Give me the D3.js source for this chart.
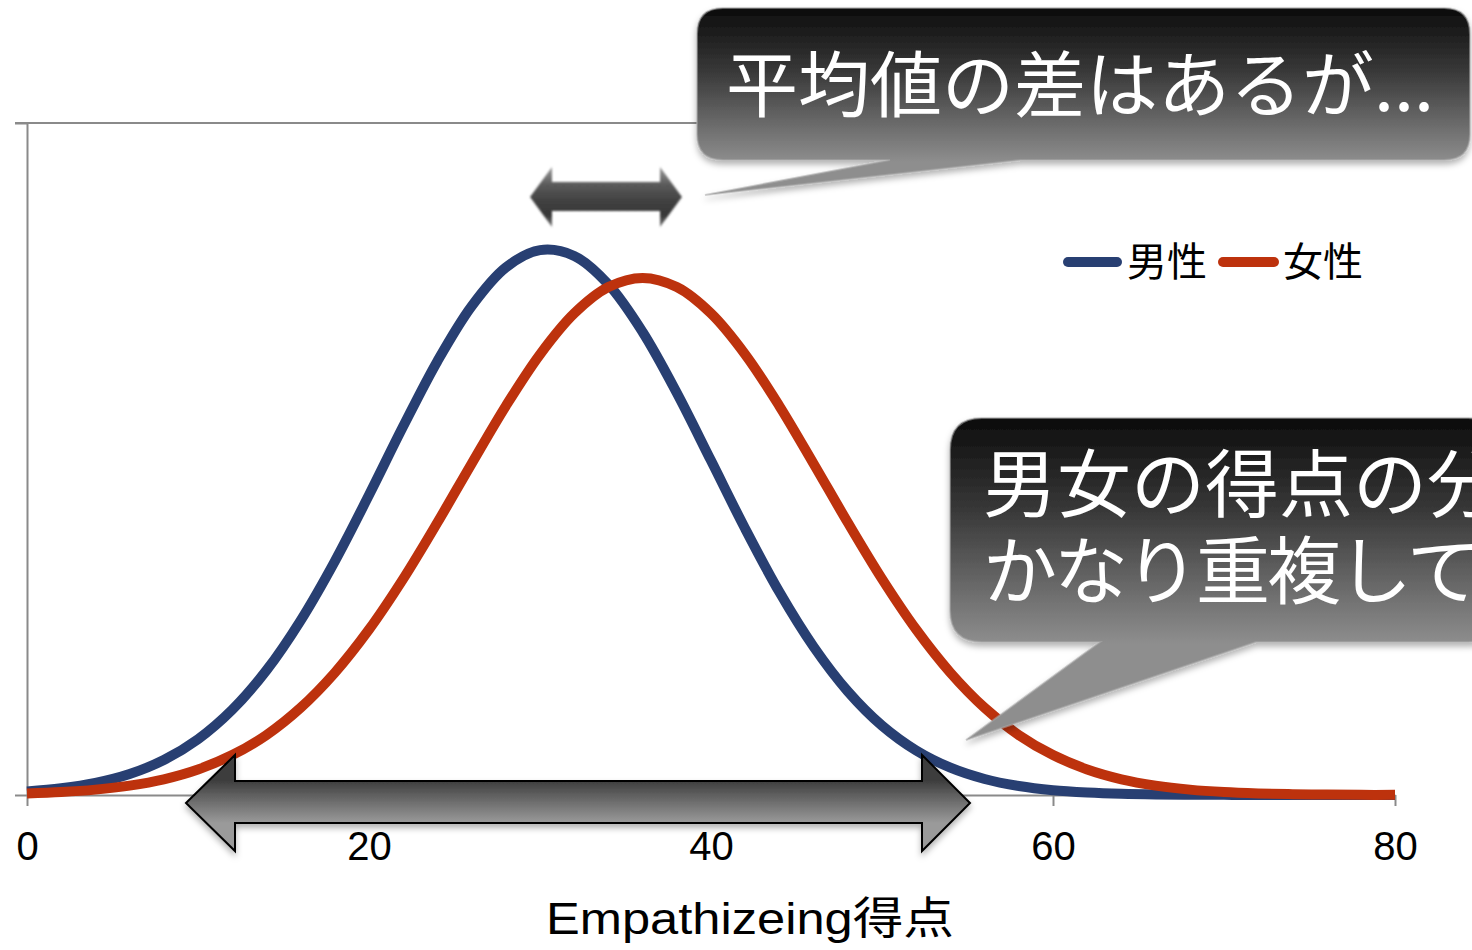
<!DOCTYPE html>
<html>
<head>
<meta charset="utf-8">
<script src="https://cdn.jsdelivr.net/npm/d3@7"></script>
<style>
  html, body { margin: 0; padding: 0; background: #fff; overflow: hidden; }
  svg { display: block; }
</style>
</head>
<body>
<svg id="chart" width="1472" height="950"></svg>
<script>
// Empathizing score distributions for men and women (density, %)
const scores = [0,2,4,6,8,10,12,14,16,18,20,22,24,26,28,30,32,34,36,38,40,
                42,44,46,48,50,52,54,56,58,60,62,64,66,68,70,72,74,76,78,80];
const maleDensity = [0.026,0.050,0.090,0.156,0.260,0.415,0.634,0.927,1.298,1.739,2.232,
                     2.743,3.228,3.637,3.925,4.054,4.011,3.799,3.445,2.992,2.488,
                     1.981,1.510,1.103,0.771,0.516,0.331,0.203,0.119,0.067,0.036,
                     0.019,0.009,0.004,0.002,0.001,0.000,0.000,0.000,0.000,0.000];
const femaleDensity = [0.012,0.022,0.040,0.070,0.117,0.190,0.297,0.446,0.649,0.910,1.231,
                       1.608,2.027,2.465,2.894,3.278,3.583,3.779,3.847,3.779,3.583,
                       3.278,2.894,2.465,2.027,1.608,1.231,0.910,0.649,0.446,0.297,
                       0.190,0.117,0.070,0.040,0.022,0.012,0.006,0.003,0.001,0.001];
const seriesNames = ["男性", "女性"];
const xTicks = [0, 20, 40, 60, 80];
const xTitle = "Empathizeing得点";
const noteTop = "平均値の差はあるが...";
const noteBottom = ["男女の得点の分布は", "かなり重複している"];

const svg = d3.select("#chart");
const latin = "'Liberation Sans', Arial, 'Noto Sans CJK JP', sans-serif";
const cjk = "'Noto Sans CJK JP', 'Noto Sans CJK SC', sans-serif";

const x = d3.scaleLinear().domain([0, 80]).range([27, 1395]);
const y = d3.scaleLinear().domain([0, 5]).range([795, 123]);

const defs = svg.append("defs");

// gradients and shadows
const bubbleGrad = (id, y0, y1) => {
  const g = defs.append("linearGradient").attr("id", id)
    .attr("gradientUnits", "userSpaceOnUse")
    .attr("x1", 0).attr("x2", 0).attr("y1", y0).attr("y2", y1);
  g.append("stop").attr("offset", 0).attr("stop-color", "#0c0c0c");
  g.append("stop").attr("offset", 0.4).attr("stop-color", "#373737");
  g.append("stop").attr("offset", 1).attr("stop-color", "#8e8e8e");
};
bubbleGrad("bubble1", 8, 162);
bubbleGrad("bubble2", 418, 644);

const arrowGrad = defs.append("linearGradient").attr("id", "bigArrow")
  .attr("gradientUnits", "userSpaceOnUse")
  .attr("x1", 0).attr("x2", 0).attr("y1", 781).attr("y2", 823);
arrowGrad.append("stop").attr("offset", 0).attr("stop-color", "#3e3e3e");
arrowGrad.append("stop").attr("offset", 0.3).attr("stop-color", "#5c5c5c");
arrowGrad.append("stop").attr("offset", 1).attr("stop-color", "#9a9a9a");

const smallGrad = defs.append("linearGradient").attr("id", "smallArrow")
  .attr("gradientUnits", "userSpaceOnUse")
  .attr("x1", 0).attr("x2", 0).attr("y1", 167).attr("y2", 227);
smallGrad.append("stop").attr("offset", 0).attr("stop-color", "#9a9a9a");
smallGrad.append("stop").attr("offset", 0.3).attr("stop-color", "#5a5a5a");
smallGrad.append("stop").attr("offset", 0.55).attr("stop-color", "#424242");
smallGrad.append("stop").attr("offset", 0.8).attr("stop-color", "#363636");
smallGrad.append("stop").attr("offset", 1).attr("stop-color", "#777");

const shadow = defs.append("filter").attr("id", "shadow")
  .attr("x", "-10%").attr("y", "-20%").attr("width", "120%").attr("height", "150%");
shadow.append("feDropShadow").attr("dx", 0).attr("dy", 4)
  .attr("stdDeviation", 3).attr("flood-color", "#000").attr("flood-opacity", 0.3);

const soft = defs.append("filter").attr("id", "soft");
soft.append("feGaussianBlur").attr("stdDeviation", 0.8);

// axes
const axisColor = "#8a8a8a";
svg.append("line")
  .attr("x1", 15).attr("x2", x(80))
  .attr("y1", y(5)).attr("y2", y(5))
  .attr("stroke", axisColor).attr("stroke-width", 2);

const yAxis = svg.append("g").attr("transform", `translate(${x(0)},0)`)
  .call(d3.axisLeft(y).tickValues([0, 5]).tickSize(12).tickSizeOuter(0).tickFormat(""));
yAxis.selectAll("path, line").attr("stroke", axisColor).attr("stroke-width", 2);

const xAxis = svg.append("g").attr("transform", `translate(0,${y(0)})`)
  .call(d3.axisBottom(x).tickValues(xTicks).tickSize(11).tickSizeOuter(0).tickPadding(26));
xAxis.selectAll("path, line").attr("stroke", axisColor).attr("stroke-width", 2);
xAxis.selectAll("text")
  .attr("fill", "#000").style("font-family", latin).style("font-size", "40px");

svg.append("text")
  .attr("x", 750).attr("y", 934)
  .attr("text-anchor", "middle")
  .attr("textLength", 408).attr("lengthAdjust", "spacingAndGlyphs")
  .style("font-family", latin).style("font-size", "44px")
  .attr("fill", "#000")
  .text(xTitle);

// distribution curves
const colors = ["#283f72", "#bd320d"];
const line = d3.line().x(d => x(d[0])).y(d => y(d[1])).curve(d3.curveCatmullRom.alpha(0.5));
[maleDensity, femaleDensity].forEach((vals, i) => {
  svg.append("path")
    .datum(scores.map((s, k) => [s, vals[k]]))
    .attr("d", line)
    .attr("fill", "none")
    .attr("stroke", colors[i])
    .attr("stroke-width", 10)
    .attr("stroke-linejoin", "round");
});

// legend
const legend = [[1063, 1122, 1127], [1218, 1279, 1283]];
legend.forEach((p, i) => {
  svg.append("line")
    .attr("x1", p[0] + 5).attr("x2", p[1] - 5).attr("y1", 262).attr("y2", 262)
    .attr("stroke", colors[i]).attr("stroke-width", 10).attr("stroke-linecap", "round");
  svg.append("text")
    .attr("x", p[2]).attr("y", 276)
    .style("font-family", cjk).style("font-size", "40px")
    .attr("fill", "#000")
    .text(seriesNames[i]);
});

// wide double arrow spanning most of both distributions
const bigArrow = [[186,803],[235,755],[235,781],[922,781],[922,755],[970,803],
                  [922,851],[922,823],[235,823],[235,851]];
svg.append("path")
  .attr("d", "M" + bigArrow.join("L") + "Z")
  .attr("fill", "url(#bigArrow)")
  .attr("stroke", "#000").attr("stroke-width", 2).attr("stroke-linejoin", "miter")
  .attr("filter", "url(#shadow)");

// short double arrow between the two means
const smallArrow = [[530,197],[552,167],[552,182],[660,182],[660,167],[682,197],
                    [660,227],[660,211],[552,211],[552,227]];
svg.append("path")
  .attr("d", "M" + smallArrow.join("L") + "Z")
  .attr("fill", "url(#smallArrow)")
  .attr("filter", "url(#soft)");

// speech bubbles
function bubble(x0, y0, x1, y1, r, tail, grad) {
  const p = d3.path();
  p.moveTo(x0 + r, y0);
  p.lineTo(x1 - r, y0);
  p.quadraticCurveTo(x1, y0, x1, y0 + r);
  p.lineTo(x1, y1 - r);
  p.quadraticCurveTo(x1, y1, x1 - r, y1);
  p.lineTo(tail[1][0], y1);
  p.lineTo(tail[2][0], tail[2][1]);
  p.lineTo(tail[0][0], y1);
  p.lineTo(x0 + r, y1);
  p.quadraticCurveTo(x0, y1, x0, y1 - r);
  p.lineTo(x0, y0 + r);
  p.quadraticCurveTo(x0, y0, x0 + r, y0);
  p.closePath();
  svg.append("path")
    .attr("d", p.toString())
    .attr("fill", `url(#${grad})`)
    .attr("stroke", "#aaa").attr("stroke-opacity", 0.55).attr("stroke-width", 2)
    .attr("filter", "url(#shadow)");
}

bubble(697, 8, 1470, 160, 26, [[890,160],[1020,160],[705,195]], "bubble1");
svg.append("text")
  .attr("x", 726).attr("y", 111)
  .style("font-family", cjk).style("font-size", "72px")
  .attr("fill", "#fff")
  .text(noteTop);

bubble(950, 418, 1500, 642, 32, [[1100,642],[1256,642],[966,740]], "bubble2");
noteBottom.forEach((t, i) => {
  svg.append("text")
    .attr("x", 983).attr("y", 511 + i * 87)
    .attr("letter-spacing", i === 1 ? -3 : 0)
    .style("font-family", cjk).style("font-size", "74px")
    .attr("fill", "#fff")
    .text(t);
});
</script>
</body>
</html>
